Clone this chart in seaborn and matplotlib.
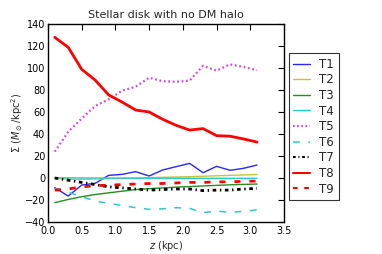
#!/usr/bin/env python3
"""
Surface density profiles for a stellar disk without a DM halo.
"""

import numpy as np
import pandas as pd
import seaborn as sns
import matplotlib.pyplot as plt

z = [0.1, 0.3, 0.5, 0.7, 0.9, 1.1, 1.3, 1.5, 1.7, 1.9, 2.1, 2.3, 2.5, 2.7, 2.9, 3.1]

T1 = [-8.8, -16.4, -6.4, -4.8, 2.4, 3.3, 5.8, 1.8, 7.3, 10.3, 13.3, 4.8, 10.6, 7.0, 8.8, 11.8]
T2 = [-0.5, -1.0, -1.2, -1.0, -0.6, -0.3, 0.0, 0.3, 0.6, 0.9, 1.2, 1.6, 2.0, 2.4, 2.8, 3.2]
T3 = [-22.4, -19.5, -17.0, -15.0, -13.5, -12.0, -10.5, -9.7, -9.0, -8.3, -7.8, -7.2, -6.7, -6.2, -5.8, -5.5]
T4 = [0.2, 0.1, 0.0, 0.0, -0.1, -0.1, -0.2, -0.2, -0.2, -0.3, -0.3, -0.3, -0.3, -0.3, -0.3, -0.3]
T5 = [24.0, 42.0, 54.0, 65.5, 71.5, 79.4, 83.0, 91.2, 88.0, 87.5, 88.5, 102.0, 97.6, 103.3, 101.0, 98.0]
T6 = [-9.4, -13.0, -17.0, -21.0, -23.0, -25.0, -27.0, -28.5, -28.0, -27.0, -27.6, -31.5, -30.0, -31.2, -30.3, -29.0]
T7 = [0.0, -2.0, -4.0, -6.0, -8.0, -9.0, -10.0, -11.0, -10.5, -10.0, -10.0, -11.5, -11.0, -11.0, -10.0, -9.5]
T8 = [127.9, 118.8, 98.8, 89.0, 75.5, 69.0, 61.8, 60.0, 53.4, 47.9, 43.6, 44.9, 38.5, 38.0, 35.5, 32.7]
T9 = [-11.0, -10.0, -8.0, -7.0, -6.5, -6.0, -5.5, -5.0, -5.0, -4.5, -4.0, -4.0, -3.5, -3.5, -3.0, -2.8]

series_names = ['T1', 'T2', 'T3', 'T4', 'T5', 'T6', 'T7', 'T8', 'T9']
series_vals = [T1, T2, T3, T4, T5, T6, T7, T8, T9]

styles = {
    'T1': dict(color='#2828ff', linewidth=1.0),
    'T2': dict(color='#c4c43a', linewidth=1.0),
    'T3': dict(color='#209020', linewidth=1.0),
    'T4': dict(color='#20cccc', linewidth=1.0),
    'T5': dict(color='#d444e4', linewidth=1.6, dashes=(0.8, 1.2)),
    'T6': dict(color='#30c8c8', linewidth=1.1, dashes=(4.5, 5.5)),
    'T7': dict(color='black', linewidth=2.0, dashes=(1.3, 1.3, 0.5, 1.3)),
    'T8': dict(color='red', linewidth=2.0),
    'T9': dict(color='red', linewidth=2.0, dashes=(2.2, 3.2)),
}

sns.set_theme(style='white')
plt.rcParams['font.family'] = ['DejaVu Sans']
plt.rcParams['mathtext.fontset'] = 'dejavusans'

fig = plt.figure(figsize=(3.82, 2.54), dpi=100)
ax = fig.add_axes([48 / 382, 32 / 254, 236 / 382, 198 / 254])

for name, vals in zip(series_names, series_vals):
    df = pd.DataFrame({'z': z, 'sigma': vals})
    st = dict(styles[name])
    dashes = st.pop('dashes', None)
    line = sns.lineplot(data=df, x='z', y='sigma', ax=ax, label=name, **st).lines[-1]
    if dashes is not None:
        line.set_dashes(dashes)

ax.set_xlim(0, 3.5)
ax.set_ylim(-40, 140)
ax.set_xticks(np.arange(0, 3.51, 0.5))
ax.set_yticks(np.arange(-40, 141, 20))
ax.tick_params(direction='in', top=True, right=True, length=4, width=0.8,
               labelsize=7, colors='black')
ax.tick_params(axis='x', pad=3)
ax.tick_params(axis='y', pad=2)
for sp in ax.spines.values():
    sp.set_color('black')
    sp.set_linewidth(1.0)

ax.set_title('Stellar disk with no DM halo', fontsize=8, pad=4)
ax.set_xlabel('$z$ (kpc)', fontsize=7, labelpad=2)
ax.set_ylabel(r'$\Sigma$ ($M_\odot$/kpc$^2$)', fontsize=7, labelpad=0)

leg = ax.legend(loc='upper left', bbox_to_anchor=(1.02, 0.853), borderaxespad=0,
                fontsize=8.5, frameon=True, fancybox=False, handlelength=1.4,
                labelspacing=0.22, handletextpad=0.8, borderpad=0.4)
leg.get_frame().set_edgecolor('black')
leg.get_frame().set_linewidth(0.8)
for h in leg.get_lines():
    h.set_linewidth(min(h.get_linewidth(), 1.5))

fig.savefig('out.png', dpi=100)
